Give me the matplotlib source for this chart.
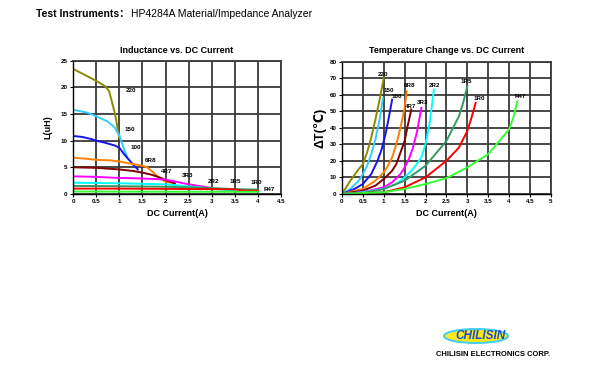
import matplotlib
matplotlib.use("Agg")
from matplotlib import pyplot as plt
from matplotlib.patches import Ellipse
import numpy as np

plt.rcParams['font.family'] = ['Liberation Sans', 'DejaVu Sans', 'Noto Sans CJK SC']

# part names and colours, shared by both charts
names = ["220", "150", "100", "6R8", "4R7", "3R3", "2R2", "1R5", "1R0", "R47"]
colors = ["#8C8C00", "#33CCFF", "#1414F0", "#FF8000", "#800000",
          "#FF00FF", "#00FFFF", "#339966", "#FF0000", "#33FF33"]

# inductance vs DC current (A, uH)
l_curr = {
    "220": [0, 0.2, 0.4, 0.55, 0.7, 0.78, 0.85, 0.92, 0.97, 1.0],
    "150": [0, 0.3, 0.5, 0.75, 0.9, 1.0, 1.1, 1.18],
    "100": [0, 0.2, 0.4, 0.5, 0.7, 0.9, 1.0, 1.1, 1.2, 1.3, 1.4],
    "6R8": [0, 0.3, 0.5, 0.8, 1.0, 1.3, 1.5, 1.6, 1.7, 1.8, 1.9, 2.0, 2.2],
    "4R7": [0, 0.5, 1.0, 1.3, 1.5, 1.7, 1.9, 2.0, 2.2],
    "3R3": [0, 0.5, 1.0, 1.5, 2.0, 2.5, 3.0],
    "2R2": [0, 1.0, 2.0, 2.5, 3.0, 3.5],
    "1R5": [0, 1.0, 2.0, 3.0, 3.5, 4.0],
    "1R0": [0, 1.0, 2.0, 3.0, 3.5, 3.7, 4.0],
    "R47": [0, 2.0, 4.0],
}
l_val = {
    "220": [23.5, 22.6, 21.7, 21.0, 20.2, 19.3, 17.0, 14.5, 12.0, 10.5],
    "150": [15.8, 15.3, 14.6, 13.6, 12.5, 11.0, 8.5, 6.7],
    "100": [10.9, 10.7, 10.3, 10.0, 9.6, 9.1, 8.7, 7.5, 6.5, 5.5, 4.6],
    "6R8": [6.8, 6.6, 6.4, 6.3, 6.1, 5.6, 5.3, 5.0, 4.3, 3.5, 2.8, 2.3, 2.0],
    "4R7": [5.0, 4.9, 4.6, 4.3, 4.0, 3.6, 3.0, 2.6, 2.0],
    "3R3": [3.3, 3.2, 3.0, 2.9, 2.7, 1.8, 1.1],
    "2R2": [2.1, 2.0, 1.8, 1.4, 1.0, 0.6],
    "1R5": [1.5, 1.45, 1.35, 1.1, 0.9, 0.8],
    "1R0": [1.0, 1.0, 0.95, 0.9, 0.85, 0.6, 0.6],
    "R47": [0.45, 0.42, 0.4],
}
l_lab_x = [1.25, 1.22, 1.35, 1.67, 2.03, 2.47, 3.04, 3.51, 3.96, 4.25]
l_lab_y = [19.5, 12.1, 8.75, 6.2, 4.3, 3.5, 2.4, 2.4, 2.1, 0.9]

# temperature rise vs DC current (A, degC)
t_curr = {
    "220": [0, 0.2, 0.4, 0.5, 0.6, 0.7, 0.8, 0.9, 1.0],
    "150": [0, 0.2, 0.4, 0.5, 0.6, 0.7, 0.8, 0.9, 0.98],
    "100": [0, 0.3, 0.5, 0.7, 0.85, 0.95, 1.05, 1.12, 1.2],
    "6R8": [0, 0.5, 0.8, 1.0, 1.1, 1.2, 1.3, 1.4, 1.5, 1.55],
    "4R7": [0, 0.5, 0.8, 1.0, 1.2, 1.3, 1.4, 1.5, 1.58, 1.66],
    "3R3": [0, 0.5, 1.0, 1.2, 1.4, 1.5, 1.6, 1.7, 1.8, 1.9],
    "2R2": [0, 0.5, 1.0, 1.3, 1.5, 1.7, 1.9, 2.0, 2.1, 2.2],
    "1R5": [0, 0.5, 1.0, 1.5, 2.0, 2.5, 2.8, 2.9, 3.0],
    "1R0": [0, 1.0, 1.5, 2.0, 2.5, 2.8, 3.0, 3.1, 3.2],
    "R47": [0, 1.0, 1.5, 2.0, 2.5, 3.0, 3.5, 4.0, 4.1, 4.2],
}
t_val = {
    "220": [0, 8, 15, 18, 25, 34, 45, 57, 70],
    "150": [0, 3, 8, 12, 17, 24, 33, 45, 58],
    "100": [0, 3, 6, 12, 20, 27, 37, 46, 57],
    "6R8": [0, 3, 8, 13, 17, 22, 30, 40, 52, 62],
    "4R7": [0, 2, 5, 9, 14, 18, 25, 32, 42, 51],
    "3R3": [0, 1, 4, 7, 12, 16, 21, 28, 38, 52],
    "2R2": [0, 1, 3, 6, 10, 15, 22, 30, 43, 63],
    "1R5": [0, 0.5, 3, 8, 17, 32, 47, 55, 65],
    "1R0": [0, 1, 4, 10, 20, 28, 38, 46, 55],
    "R47": [0, 1, 3, 6, 9.5, 16, 24, 39, 46, 56],
}
t_lab_x = [0.98, 1.13, 1.32, 1.61, 1.65, 1.94, 2.22, 2.98, 3.28, 4.26]
t_lab_y = [72.5, 62.7, 59.0, 65.7, 53.0, 55.5, 65.7, 68.0, 57.5, 58.7]

fig = plt.figure(figsize=(6, 3.78), dpi=100)

# header line
fig.text(0.060, 0.962, "Test Instruments：", fontsize=7.5, fontweight='bold',
         va='center', ha='left')
fig.text(0.218, 0.962, "HP4284A Material/Impedance Analyzer", fontsize=7.5,
         va='center', ha='left')


def style(ax, xmax, xstep, ymax, ystep):
    ax.set_xlim(0, xmax)
    ax.set_ylim(0, ymax)
    ax.set_xticks(np.arange(0, xmax + 0.01, xstep))
    ax.set_yticks(np.arange(0, ymax + 0.01, ystep))
    ax.set_xticklabels(["%g" % v for v in np.arange(0, xmax + 0.01, xstep)])
    ax.grid(True, color="#3A3A3A", linewidth=1.3)
    ax.tick_params(labelsize=4.5, length=2, width=0.8, colors="black", pad=2)
    for lab in ax.get_xticklabels() + ax.get_yticklabels():
        lab.set_fontweight('bold')
    for side in ["top", "right"]:
        ax.spines[side].set_color("#3A3A3A")
        ax.spines[side].set_linewidth(1.3)
    for side in ["left", "bottom"]:
        ax.spines[side].set_color("black")
        ax.spines[side].set_linewidth(1.0)
    ax.set_axisbelow(True)


# left chart
ax1 = fig.add_axes([0.1217, 0.487, 0.347, 0.352])
for n, c in zip(names, colors):
    ax1.plot(l_curr[n], l_val[n], color=c, linewidth=1.4)
for n, x, y in zip(names, l_lab_x, l_lab_y):
    ax1.text(x, y, n, fontsize=4.5, fontweight='bold', ha='center', va='center')
style(ax1, 4.5, 0.5, 25, 5)
ax1.set_title("Inductance vs. DC Current", fontsize=6.5, fontweight='bold', pad=6)
ax1.set_xlabel("DC Current(A)", fontsize=6.5, fontweight='bold', labelpad=3)
ax1.set_ylabel("L(uH)", fontsize=6.5, fontweight='bold', labelpad=6)

# right chart
ax2 = fig.add_axes([0.570, 0.487, 0.348, 0.350])
for n, c in zip(names, colors):
    ax2.plot(t_curr[n], t_val[n], color=c, linewidth=1.4)
for n, x, y in zip(names, t_lab_x, t_lab_y):
    ax2.text(x, y, n, fontsize=4.5, fontweight='bold', ha='center', va='center')
style(ax2, 5, 0.5, 80, 10)
ax2.set_title("Temperature Change vs. DC Current", fontsize=6.5, fontweight='bold', pad=6)
ax2.set_xlabel("DC Current(A)", fontsize=6.5, fontweight='bold', labelpad=3)
ax2.set_ylabel("ΔT(℃)", fontsize=9, fontweight='bold', labelpad=2)

# company logo
fig.patches.append(Ellipse((476 / 600, 1 - 336 / 378), 64 / 600, 14 / 378,
                           transform=fig.transFigure, facecolor="#FFE600",
                           edgecolor="#33CCFF", linewidth=1.5, alpha=0.9))
fig.text(481 / 600, 1 - 336 / 378, "CHILISIN", fontsize=8.5, fontweight='bold',
         style='italic', color="#1A4FCC", ha='center', va='center')
fig.text(436 / 600, 1 - 355 / 378, "CHILISIN ELECTRONICS CORP.", fontsize=5.5,
         fontweight='bold', ha='left', va='center')

plt.savefig("out.png", dpi=100)
